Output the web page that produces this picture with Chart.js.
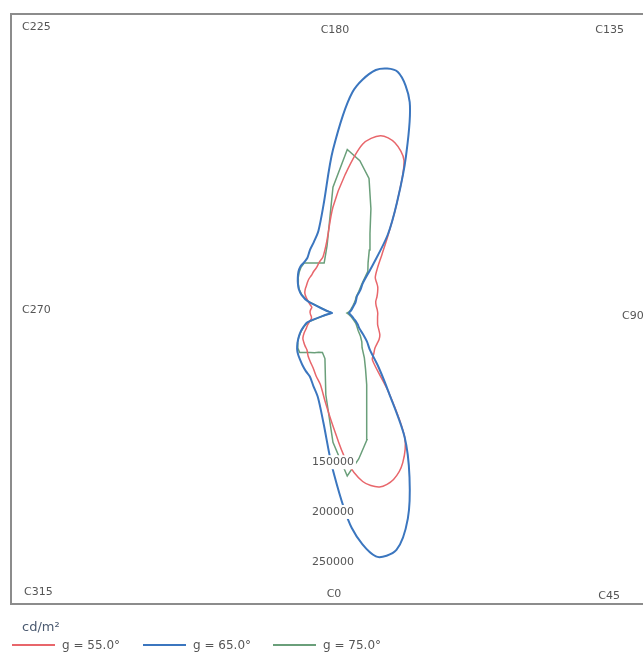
<!DOCTYPE html>
<html>
<head>
<meta charset="utf-8">
<script src="https://cdn.jsdelivr.net/npm/chart.js@4.4.1/dist/chart.umd.min.js"></script>
<style>
    html, body { margin: 0; padding: 0; background: #fff; }
    #wrap { width: 643px; height: 656px; }
</style>
</head>
<body>
<div id="wrap"><canvas id="chart"></canvas></div>
<script>
// C-plane angles (degrees) and luminance values (cd/m²)
const cAngles = [0, 5, 10, 15, 20, 25, 30, 35, 40, 45, 50, 55, 60, 65, 70, 75, 80, 85,
    90, 95, 100, 105, 110, 115, 120, 125, 130, 135, 140, 145, 150, 155, 160, 165, 170, 175,
    180, 185, 190, 195, 200, 205, 210, 215, 220, 225, 230, 235, 240, 245, 250, 255, 260, 265,
    270, 275, 280, 285, 290, 295, 300, 305, 310, 315, 320, 325, 330, 335, 340, 345, 350, 355];

const lum55 = [113500, 148000, 172000, 181000, 178000, 166000, 144000, 98000, 61500, 58000, 55000, 54000, 53500, 52000, 49000, 46500, 45500, 45000,
    45000, 44500, 44000, 44500, 47000, 49500, 52000, 53500, 55500, 63000, 76500, 97500, 129000, 169000, 182000, 184500, 172500, 139500,
    106500, 72000, 57500, 53000, 48500, 46000, 43500, 42000, 40000, 38000, 36500, 34500, 31000, 27500, 24500, 22000, 22500, 23000,
    23000, 22500, 22000, 22500, 25000, 28000, 31000, 35500, 39500, 41500, 43500, 45500, 50000, 54000, 58500, 65500, 73000, 89500];

const lum65 = [158000, 217000, 248500, 246500, 220000, 182000, 144000, 98000, 71500, 52500, 44500, 36500, 30500, 27500, 24500, 21500, 19500, 17500,
    16000, 17500, 19000, 20500, 22500, 25000, 27000, 29500, 36000, 42500, 61000, 96000, 129000, 173500, 225500, 251000, 248000, 222500,
    164000, 109000, 84000, 74000, 67500, 61000, 58500, 57000, 54000, 50000, 46000, 42000, 36500, 28000, 8000, 2000, 1000, 1000,
    1000, 1000, 1000, 8000, 27500, 32500, 37500, 42000, 46500, 51000, 54500, 57500, 61000, 64500, 68000, 76000, 86500, 110500];

const lum75 = [130000, 164500, 149000, 132000, 100000, 79500, 65500, 55000, 45500, 41000, 36000, 31000, 28000, 25500, 22500, 20000, 18000, 16000,
    14000, 16500, 18000, 19500, 21500, 23500, 26000, 28500, 34000, 41000, 54500, 61500, 73000, 88000, 111500, 140000, 155500, 165000,
    126500, 68000, 51000, 52000, 53500, 55500, 58000, 56000, 53000, 49500, 45500, 41500, 36000, 27500, 8000, 3000, 2000, 2000,
    2000, 2000, 2000, 8000, 26000, 32000, 37000, 42000, 46500, 50000, 52000, 48500, 46000, 44000, 42000, 41000, 46500, 82500];

const seriesLabels = ['g = 55.0°', 'g = 65.0°', 'g = 75.0°'];
const seriesColors = ['#e8666b', '#3b76bf', '#6a9f7a'];
const planeLabels = ['C0', 'C45', 'C90', 'C135', 'C180', 'C225', 'C270', 'C315'];
const radialTicks = [150000, 200000, 250000];
const unitLabel = 'cd/m²';

// polar -> x/y data values; the loop starts at C270 so the closing joint sits at the centre
function toPoints(values) {
    const pts = cAngles.map((c, i) => {
        const a = c * Math.PI / 180;
        return { x: values[i] * Math.sin(a), y: -values[i] * Math.cos(a) };
    });
    const start = cAngles.indexOf(270);
    const loop = pts.slice(start).concat(pts.slice(0, start));
    loop.push(loop[0]);
    return loop;
}

const frame = {
    id: 'frame',
    beforeDatasetsDraw(chart) {
        const { ctx, chartArea: a } = chart;
        ctx.save();
        ctx.strokeStyle = '#8c8c8c';
        ctx.lineWidth = 2;
        ctx.beginPath();
        ctx.moveTo(a.right, a.top);
        ctx.lineTo(a.left, a.top);
        ctx.lineTo(a.left, a.bottom);
        ctx.lineTo(a.right, a.bottom);
        ctx.stroke();

        // plane labels: corners and edge midpoints of the frame
        const spots = {
            C0: [a.left + 323, a.bottom - 10, 'center'],
            C45: [a.right - 23, a.bottom - 8, 'right'],
            C90: [a.right - 21, 316, 'left'],
            C135: [a.right - 19, a.top + 16, 'right'],
            C180: [a.left + 324, a.top + 16, 'center'],
            C225: [a.left + 11, a.top + 13, 'left'],
            C270: [a.left + 11, 310, 'left'],
            C315: [a.left + 13, a.bottom - 12, 'left']
        };
        ctx.fillStyle = '#555';
        ctx.font = '11px "DejaVu Sans"';
        ctx.textBaseline = 'middle';
        planeLabels.forEach(l => {
            const s = spots[l];
            ctx.textAlign = s[2];
            ctx.fillText(l, s[0], s[1]);
        });
        ctx.restore();
    },
    afterDatasetsDraw(chart) {
        const { ctx, scales } = chart;
        ctx.save();
        ctx.font = '11px "DejaVu Sans"';
        ctx.textAlign = 'center';
        ctx.textBaseline = 'middle';
        radialTicks.forEach(v => {
            const x = scales.x.getPixelForValue(0);
            const y = scales.y.getPixelForValue(-v);
            const t = String(v);
            const w = ctx.measureText(t).width;
            ctx.fillStyle = '#fff';
            ctx.fillRect(x - w / 2 - 2, y - 7, w + 4, 14);
            ctx.fillStyle = '#555';
            ctx.fillText(t, x, y);
        });
        ctx.restore();
    },
    afterDraw(chart) {
        const { ctx } = chart;
        ctx.save();
        ctx.textBaseline = 'middle';
        ctx.textAlign = 'left';
        ctx.font = '13px "DejaVu Sans"';
        ctx.fillStyle = '#4b5a70';
        ctx.fillText(unitLabel, 22, 628);
        ctx.font = '12px "DejaVu Sans"';
        const xs = [12, 143, 273];
        chart.data.datasets.forEach((ds, i) => {
            ctx.strokeStyle = ds.borderColor;
            ctx.lineWidth = 2;
            ctx.beginPath();
            ctx.moveTo(xs[i], 645);
            ctx.lineTo(xs[i] + 43, 645);
            ctx.stroke();
            ctx.fillStyle = '#555';
            ctx.fillText(ds.label, xs[i] + 50, 646);
        });
        ctx.restore();
    }
};

const datasets = [lum55, lum65, lum75].map((vals, i) => ({
    label: seriesLabels[i],
    data: toPoints(vals),
    borderColor: seriesColors[i],
    backgroundColor: seriesColors[i],
    borderWidth: i === 1 ? 2 : 1.5,
    showLine: true,
    fill: false,
    tension: i === 2 ? 0 : 0.3,
    pointRadius: 0,
    order: i === 1 ? 0 : 1
}));

new Chart(document.getElementById('chart'), {
    type: 'scatter',
    data: { datasets: datasets },
    options: {
        responsive: true,
        maintainAspectRatio: false,
        animation: false,
        layout: { padding: { left: 11, top: 14, right: 0, bottom: 52 } },
        scales: {
            x: { type: 'linear', display: false, min: -323600, max: 311600 },
            y: { type: 'linear', display: false, min: -292500, max: 300500 }
        },
        plugins: {
            legend: { display: false },
            tooltip: { enabled: false }
        }
    },
    plugins: [frame]
});
</script>
</body>
</html>
